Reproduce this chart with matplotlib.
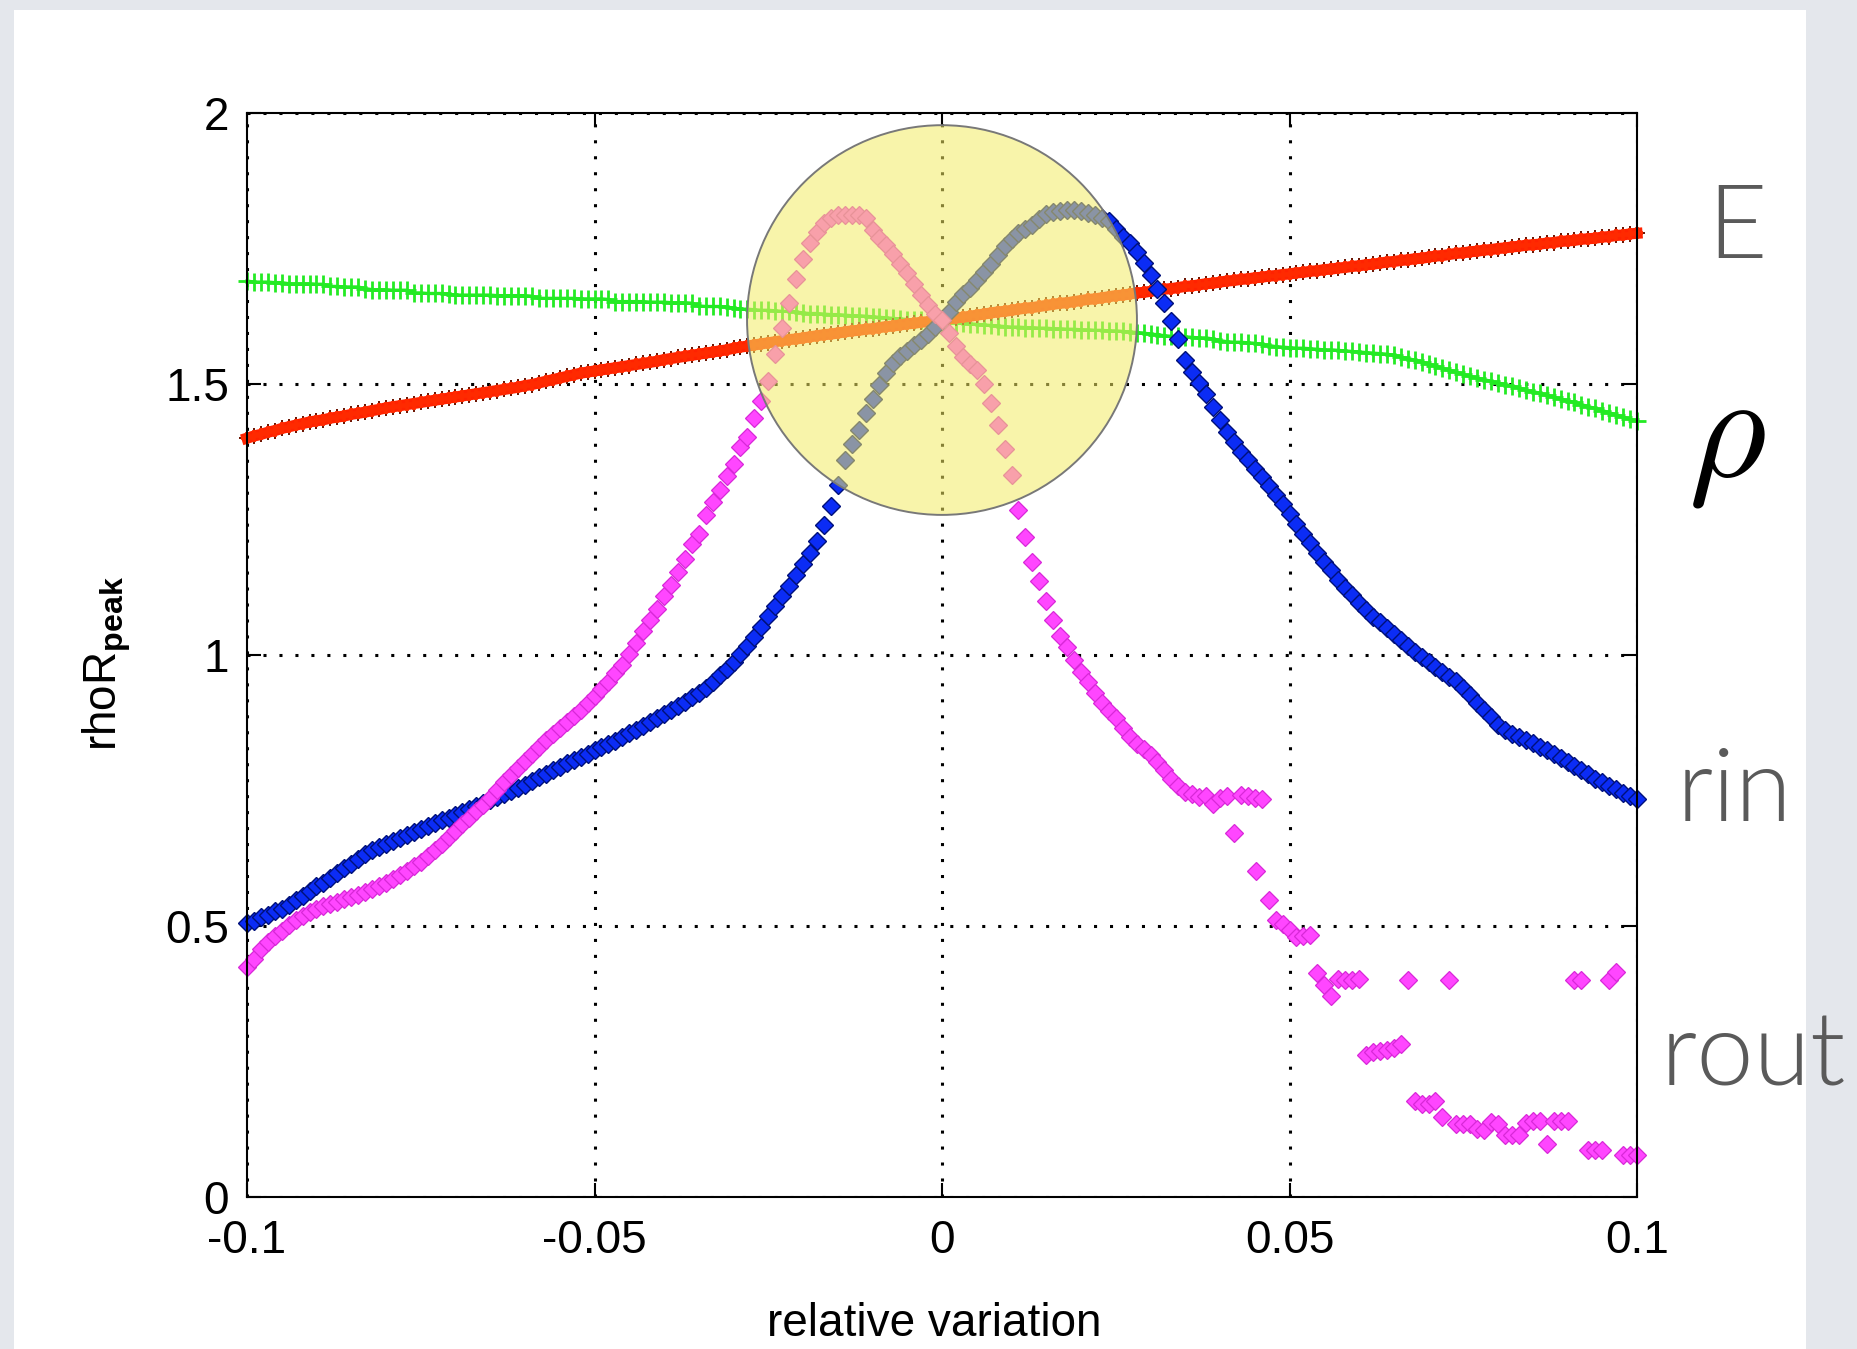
import numpy as np
import matplotlib.pyplot as plt
from matplotlib import font_manager
from matplotlib.patches import Ellipse, Rectangle

# relative variation of the input, one sample every 0.001
variation = np.linspace(-0.1, 0.1, 201)

# rhoR_peak when E is varied
rhoR_E = [
    1.400, 1.404, 1.407, 1.411, 1.414, 1.418, 1.421, 1.424, 1.427, 1.430,
    1.432, 1.434, 1.437, 1.439, 1.441, 1.444, 1.446, 1.448, 1.451, 1.453,
    1.456, 1.458, 1.460, 1.462, 1.464, 1.466, 1.468, 1.470, 1.472, 1.474,
    1.476, 1.478, 1.480, 1.482, 1.484, 1.486, 1.488, 1.490, 1.492, 1.494,
    1.497, 1.499, 1.502, 1.505, 1.508, 1.511, 1.514, 1.517, 1.520, 1.522,
    1.524, 1.526, 1.528, 1.530, 1.532, 1.534, 1.536, 1.538, 1.540, 1.542,
    1.545, 1.547, 1.549, 1.551, 1.553, 1.555, 1.557, 1.559, 1.561, 1.563,
    1.566, 1.568, 1.570, 1.572, 1.574, 1.576, 1.578, 1.580, 1.582, 1.583,
    1.585, 1.587, 1.589, 1.591, 1.592, 1.594, 1.596, 1.598, 1.599, 1.601,
    1.602, 1.604, 1.606, 1.607, 1.609, 1.611, 1.612, 1.614, 1.615, 1.617,
    1.618, 1.620, 1.622, 1.623, 1.625, 1.627, 1.629, 1.631, 1.633, 1.634,
    1.636, 1.638, 1.640, 1.641, 1.643, 1.645, 1.647, 1.649, 1.650, 1.652,
    1.654, 1.656, 1.657, 1.659, 1.661, 1.663, 1.664, 1.666, 1.668, 1.669,
    1.671, 1.673, 1.675, 1.676, 1.678, 1.680, 1.681, 1.683, 1.685, 1.686,
    1.688, 1.690, 1.691, 1.693, 1.694, 1.696, 1.697, 1.699, 1.700, 1.702,
    1.703, 1.705, 1.706, 1.708, 1.709, 1.711, 1.712, 1.714, 1.715, 1.717,
    1.718, 1.720, 1.721, 1.723, 1.725, 1.726, 1.728, 1.729, 1.731, 1.732,
    1.734, 1.736, 1.737, 1.739, 1.741, 1.742, 1.744, 1.745, 1.747, 1.748,
    1.750, 1.751, 1.753, 1.754, 1.756, 1.757, 1.758, 1.760, 1.761, 1.763,
    1.764, 1.765, 1.767, 1.768, 1.769, 1.771, 1.772, 1.774, 1.775, 1.777,
    1.778,
]

# rhoR_peak when rho is varied
rhoR_rho = [
    1.690, 1.688, 1.688, 1.688, 1.687, 1.687, 1.685, 1.685, 1.685, 1.685,
    1.684, 1.684, 1.680, 1.680, 1.679, 1.679, 1.679, 1.676, 1.674, 1.674,
    1.674, 1.673, 1.673, 1.673, 1.668, 1.668, 1.667, 1.667, 1.667, 1.666,
    1.664, 1.664, 1.664, 1.664, 1.664, 1.664, 1.663, 1.663, 1.663, 1.663,
    1.663, 1.662, 1.658, 1.658, 1.658, 1.658, 1.658, 1.658, 1.657, 1.657,
    1.657, 1.657, 1.656, 1.652, 1.652, 1.652, 1.652, 1.652, 1.651, 1.651,
    1.651, 1.650, 1.650, 1.650, 1.649, 1.644, 1.643, 1.643, 1.643, 1.642,
    1.640, 1.638, 1.638, 1.637, 1.636, 1.636, 1.635, 1.634, 1.634, 1.633,
    1.631, 1.630, 1.630, 1.629, 1.628, 1.628, 1.627, 1.626, 1.626, 1.625,
    1.624, 1.623, 1.622, 1.621, 1.620, 1.619, 1.618, 1.618, 1.617, 1.616,
    1.615, 1.614, 1.613, 1.612, 1.611, 1.610, 1.609, 1.608, 1.607, 1.606,
    1.605, 1.605, 1.604, 1.604, 1.603, 1.603, 1.602, 1.602, 1.601, 1.601,
    1.600, 1.600, 1.599, 1.599, 1.598, 1.598, 1.597, 1.596, 1.595, 1.594,
    1.592, 1.591, 1.589, 1.588, 1.588, 1.587, 1.586, 1.585, 1.585, 1.583,
    1.580, 1.578, 1.577, 1.577, 1.576, 1.575, 1.573, 1.571, 1.569, 1.568,
    1.567, 1.566, 1.566, 1.565, 1.564, 1.563, 1.563, 1.562, 1.561, 1.560,
    1.559, 1.558, 1.557, 1.556, 1.555, 1.553, 1.550, 1.547, 1.544, 1.541,
    1.537, 1.533, 1.529, 1.525, 1.522, 1.518, 1.514, 1.511, 1.508, 1.505,
    1.502, 1.499, 1.496, 1.493, 1.489, 1.486, 1.483, 1.479, 1.476, 1.472,
    1.469, 1.466, 1.462, 1.458, 1.455, 1.451, 1.447, 1.443, 1.439, 1.435,
    1.431,
]

# rhoR_peak when the inner radius is varied
rhoR_rin = [
    0.505, 0.510, 0.516, 0.521, 0.527, 0.532, 0.539, 0.548, 0.556, 0.565,
    0.573, 0.580, 0.589, 0.598, 0.607, 0.615, 0.624, 0.632, 0.640, 0.646,
    0.652, 0.657, 0.663, 0.668, 0.673, 0.679, 0.684, 0.690, 0.695, 0.700,
    0.705, 0.711, 0.716, 0.721, 0.727, 0.732, 0.738, 0.743, 0.749, 0.755,
    0.761, 0.767, 0.774, 0.780, 0.787, 0.794, 0.800, 0.806, 0.812, 0.818,
    0.824, 0.830, 0.836, 0.842, 0.849, 0.856, 0.862, 0.869, 0.876, 0.884,
    0.891, 0.899, 0.906, 0.914, 0.922, 0.930, 0.940, 0.951, 0.963, 0.975,
    0.988, 1.002, 1.017, 1.034, 1.052, 1.072, 1.090, 1.108, 1.128, 1.148,
    1.167, 1.188, 1.210, 1.240, 1.275, 1.313, 1.360, 1.390, 1.416, 1.446,
    1.473, 1.498, 1.520, 1.538, 1.551, 1.561, 1.572, 1.582, 1.593, 1.605,
    1.618, 1.633, 1.652, 1.666, 1.678, 1.692, 1.707, 1.722, 1.738, 1.754,
    1.768, 1.778, 1.786, 1.794, 1.804, 1.813, 1.818, 1.820, 1.821, 1.821,
    1.819, 1.816, 1.812, 1.806, 1.800, 1.786, 1.772, 1.760, 1.743, 1.723,
    1.702, 1.676, 1.650, 1.617, 1.583, 1.545, 1.522, 1.502, 1.482, 1.458,
    1.434, 1.412, 1.393, 1.375, 1.359, 1.344, 1.329, 1.312, 1.295, 1.278,
    1.260, 1.242, 1.224, 1.206, 1.188, 1.172, 1.156, 1.139, 1.123, 1.110,
    1.096, 1.083, 1.071, 1.060, 1.049, 1.038, 1.027, 1.016, 1.006, 0.997,
    0.987, 0.978, 0.968, 0.960, 0.952, 0.940, 0.926, 0.911, 0.898, 0.885,
    0.870, 0.862, 0.855, 0.849, 0.844, 0.838, 0.831, 0.825, 0.818, 0.810,
    0.802, 0.795, 0.788, 0.780, 0.772, 0.765, 0.758, 0.752, 0.746, 0.740,
    0.735,
]

# rhoR_peak when the outer radius is varied
rhoR_rout = [
    0.425, 0.440, 0.458, 0.470, 0.481, 0.491, 0.502, 0.511, 0.518, 0.526,
    0.532, 0.537, 0.541, 0.545, 0.550, 0.554, 0.558, 0.563, 0.568, 0.574,
    0.580, 0.586, 0.594, 0.602, 0.610, 0.619, 0.629, 0.640, 0.652, 0.664,
    0.676, 0.688, 0.700, 0.712, 0.724, 0.737, 0.751, 0.765, 0.779, 0.792,
    0.805, 0.818, 0.831, 0.843, 0.855, 0.866, 0.877, 0.888, 0.899, 0.911,
    0.924, 0.937, 0.951, 0.966, 0.982, 1.001, 1.022, 1.044, 1.064, 1.085,
    1.108, 1.130, 1.153, 1.178, 1.204, 1.224, 1.258, 1.282, 1.305, 1.330,
    1.353, 1.384, 1.402, 1.437, 1.469, 1.505, 1.556, 1.604, 1.650, 1.694,
    1.730, 1.760, 1.781, 1.797, 1.806, 1.811, 1.812, 1.812, 1.811, 1.806,
    1.785, 1.770, 1.757, 1.740, 1.722, 1.705, 1.685, 1.665, 1.645, 1.630,
    1.618, 1.595, 1.570, 1.550, 1.537, 1.525, 1.500, 1.465, 1.425, 1.380,
    1.332, 1.268, 1.218, 1.172, 1.136, 1.100, 1.064, 1.035, 1.015, 0.990,
    0.968, 0.950, 0.930, 0.912, 0.896, 0.884, 0.866, 0.848, 0.836, 0.826,
    0.816, 0.802, 0.787, 0.771, 0.758, 0.747, 0.744, 0.738, 0.739, 0.726,
    0.737, 0.739, 0.672, 0.742, 0.740, 0.737, 0.735, 0.548, 0.511, 0.503,
    0.492, 0.480, 0.482, 0.484, 0.414, 0.391, 0.370, 0.402, 0.401, 0.401,
    0.402, 0.262, 0.268, 0.270, 0.271, 0.275, 0.282, 0.401, 0.178, 0.172,
    0.172, 0.178, 0.147, 0.401, 0.134, 0.135, 0.134, 0.126, 0.124, 0.138,
    0.134, 0.114, 0.114, 0.114, 0.137, 0.140, 0.141, 0.098, 0.141, 0.141,
    0.141, 0.401, 0.401, 0.087, 0.087, 0.087, 0.401, 0.415, 0.077, 0.077,
    0.077,
]
# extra rout point falling off the 0.74 plateau
rout_extra_x = [0.0452]
rout_extra_y = [0.601]

x_ticks = [-0.1, -0.05, 0, 0.05, 0.1]
x_tick_labels = ['-0.1', '-0.05', '0', '0.05', '0.1']
y_ticks = [0, 0.5, 1, 1.5, 2]
y_tick_labels = ['0', '0.5', '1', '1.5', '2']

# crossing point of all four scans, highlighted with a circle
centre = (0.0, 1.618)

installed = {f.name for f in font_manager.fontManager.ttflist}
if 'Liberation Sans Narrow' in installed:
    axis_font, axis_size = 'Liberation Sans Narrow', 40
else:
    axis_font, axis_size = 'Liberation Sans', 33


def weight_num(w):
    named = {'ultralight': 200, 'light': 300, 'normal': 400, 'regular': 400, 'book': 400,
             'medium': 500, 'semibold': 600, 'demibold': 600, 'bold': 700, 'heavy': 800,
             'black': 900, 'thin': 100, 'extra light': 200}
    return w if isinstance(w, int) else named.get(str(w).lower(), 400)


# a light sans for the parameter names on the right
side_family, side_weight = 'Liberation Sans', 'normal'
for fam in ['Lato', 'Open Sans', 'Roboto', 'Noto Sans']:
    w = [weight_num(f.weight) for f in font_manager.fontManager.ttflist if f.name == fam]
    light = [v for v in w if 280 <= v <= 320]
    if light:
        side_family, side_weight = fam, light[0]
        break

plt.rcParams['font.family'] = [axis_font, 'DejaVu Sans']
plt.rcParams['mathtext.fontset'] = 'custom'
plt.rcParams['mathtext.rm'] = axis_font
plt.rcParams['mathtext.bf'] = axis_font + ':bold'
plt.rcParams['lines.scale_dashes'] = False

W, H = 1857, 1349
fig = plt.figure(figsize=(W / 100, H / 100), dpi=100, facecolor='#e4e7ec')
fig.patches.append(Rectangle((14 / W, 0), 1792 / W, 1 - 10 / H, transform=fig.transFigure,
                             facecolor='white', edgecolor='none', zorder=-5))

ax = fig.add_axes([247 / W, 152 / H, 1390 / W, 1084 / H])
ax.set_facecolor('white')

# gnuplot-style series
ax.plot(variation, rhoR_rho, color='#24ea24', lw=2.4, marker='+', ms=12.5, mew=2.0,
        zorder=2, clip_on=False)
ax.plot(variation, rhoR_E, ls='none', marker='+', ms=11.5, mew=1.4, color='#6a1200',
        zorder=3, clip_on=False)
ax.plot(variation, rhoR_E, color='#ff2200', lw=8, zorder=3.1, clip_on=False)
ax.plot(variation, rhoR_E, ls='none', marker='+', ms=9, mew=2.6, color='#ff2a00',
        zorder=3.2, clip_on=False)
ax.plot(variation, rhoR_rin, ls='none', marker='D', ms=9.5, color='#0b2cf5', mec='#00107a',
        mew=1.0, zorder=4, clip_on=False)
ax.plot(variation, rhoR_rout, ls='none', marker='D', ms=9.5, color='#ff46ff', mec='#d828d8',
        mew=0.9, zorder=5, clip_on=False)
ax.plot(rout_extra_x, rout_extra_y, ls='none', marker='D', ms=9.5, color='#ff46ff',
        mec='#d828d8', mew=0.9, zorder=5)

ax.add_patch(Ellipse(centre, 0.0561, 0.719, facecolor=(0.957, 0.922, 0.392, 0.55),
                     edgecolor='#787878', lw=1.4, zorder=10))

ax.set_xlim(-0.1, 0.1)
ax.set_ylim(0, 2)
ax.set_xticks(x_ticks)
ax.set_xticklabels(x_tick_labels)
ax.set_yticks(y_ticks)
ax.set_yticklabels(y_tick_labels)
ax.grid(True, color='black', linestyle=(0, (2.2, 9.3)), linewidth=2.2, zorder=1)
ax.set_axisbelow(True)
for s in ax.spines.values():
    s.set_linewidth(1.5)
    s.set_zorder(12)
ax.tick_params(direction='in', length=10, width=1.5, top=True, right=True,
               labelsize=axis_size)
ax.tick_params(axis='x', pad=16)
ax.tick_params(axis='y', pad=13)

fig.text(934 / W, 1 - 1336 / H, 'relative variation', ha='center', va='baseline',
         fontsize=axis_size)
fig.text(107 / W, 1 - 663 / H, r'rhoR$_{\mathbf{peak}}$', rotation=90, ha='center',
         va='center', fontsize=axis_size)

# names of the scanned parameters
side = dict(family=[side_family, 'DejaVu Sans'], weight=side_weight, color='#5a5a5a',
            fontsize=74)
fig.text(1737 / W, 1 - 258 / H, 'E', ha='center', va='baseline', **side)
fig.text(1734 / W, 1 - 821 / H, 'rin', ha='center', va='baseline', **side)
fig.text(1753 / W, 1 - 1086 / H, 'rout', ha='center', va='baseline', **side)
fig.text(1727 / W, 1 - 440 / H, r'$\rho$', ha='center', va='center', fontsize=108,
         math_fontfamily='cm', color='black')

fig.savefig('out.png', dpi=100, facecolor=fig.get_facecolor())
